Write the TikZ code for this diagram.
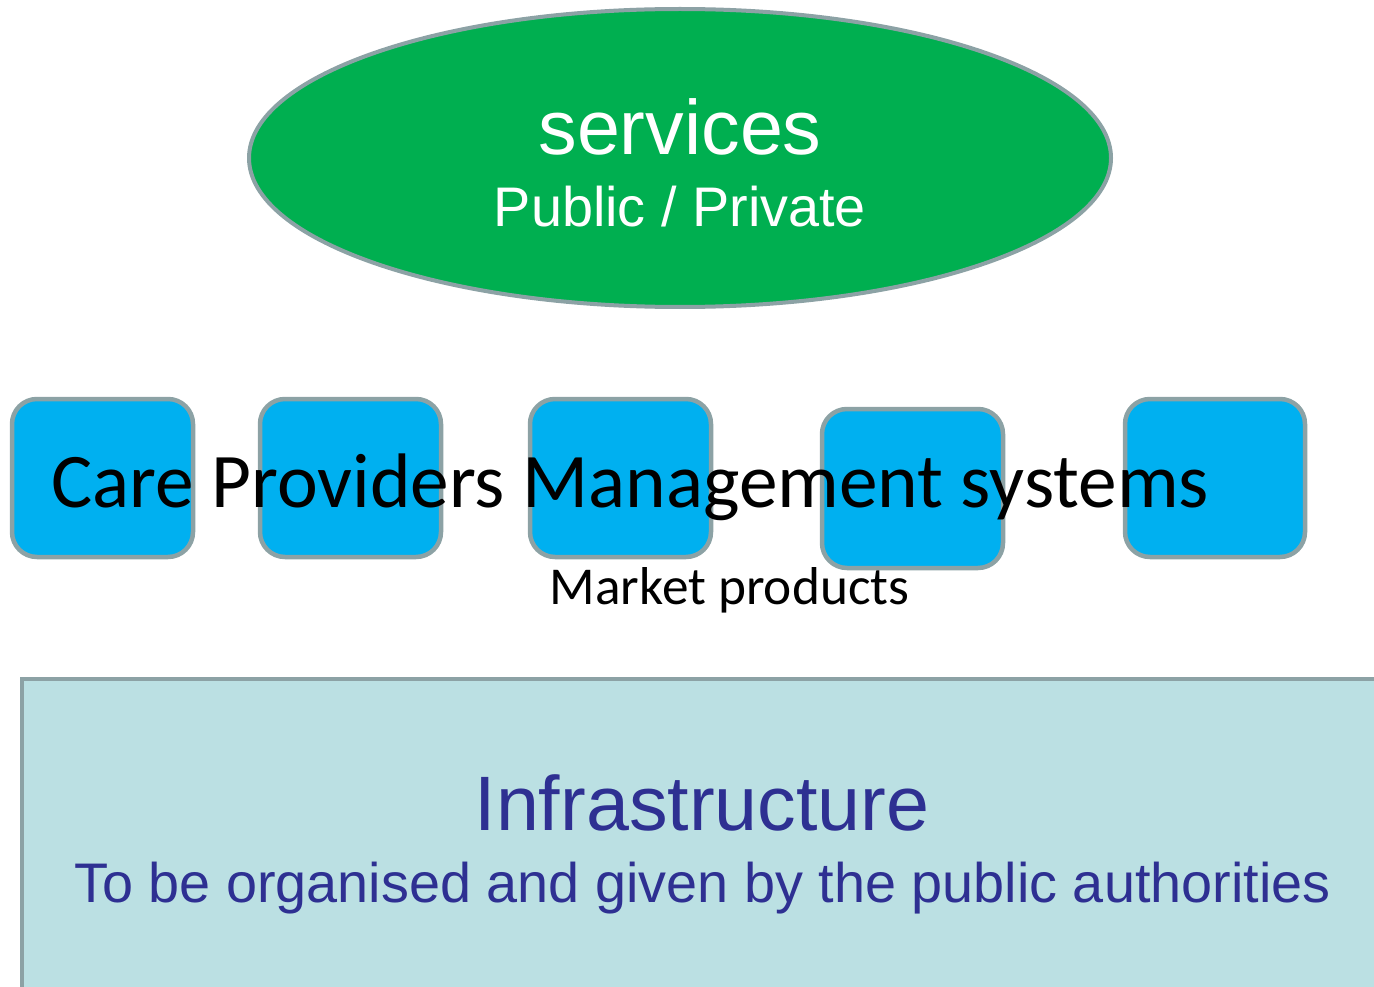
\documentclass[tikz,border=0pt]{standalone}
\usepackage{fontspec}
\setmainfont{Liberation Sans}
\newfontfamily\calib{Carlito}
\usetikzlibrary{shapes.geometric}
\definecolor{svgreen}{HTML}{00AF50}
\definecolor{cpblue}{HTML}{00B0F0}
\definecolor{bordgray}{HTML}{8CA2A5}
\definecolor{infrafill}{HTML}{BBE0E3}
\definecolor{infratext}{HTML}{2E3092}
\tikzset{
  cpbox/.style={draw=bordgray, line width=4.5pt, fill=cpblue, rounded corners=25pt},
  bigtxt/.style={font=\fontsize{77.2}{77}\selectfont, anchor=base, inner sep=0pt},
  subtxt/.style={font=\fontsize{55.8}{56}\selectfont, anchor=base, inner sep=0pt},
}
\begin{document}
\begin{tikzpicture}[x=1pt,y=-1pt]
\useasboundingbox (0,0) rectangle (1374,987);
\clip (0,0) rectangle (1374,987);
% services ellipse
\node[ellipse, draw=bordgray, line width=4pt, fill=svgreen, minimum width=862pt, minimum height=298pt, inner sep=0pt] (svc) at (680,158) {};
\node[bigtxt, text=white] (svct) at (680,155) {services};
\node[subtxt, text=white] (svcs) at (680,227) {Public / Private};
% care provider boxes
\path[cpbox] (12,399) rectangle (193,557);
\node[inner sep=0pt] (b1) at (102.5,478) {};
\path[cpbox] (260,399) rectangle (441,557);
\node[inner sep=0pt] (b2) at (350.5,478) {};
\path[cpbox] (530,399) rectangle (711,557);
\node[inner sep=0pt] (b3) at (620.5,478) {};
\path[cpbox] (822,409) rectangle (1003,568);
\node[inner sep=0pt] (b4) at (912.5,488) {};
\path[cpbox] (1125,399) rectangle (1305,557);
\node[inner sep=0pt] (b5) at (1215,478) {};
\node[anchor=base west, inner sep=0pt, font=\calib\fontsize{77.3}{77}\selectfont] (cpm) at (51,507) {Care Providers Management systems};
\node[anchor=base, inner sep=0pt, font=\calib\fontsize{53.3}{53}\selectfont] (mkt) at (729.5,604) {Market products};
% infrastructure
\path[draw=bordgray, line width=4pt, fill=infrafill] (22,679) rectangle (1400,1010);
\node[bigtxt, text=infratext] (inf) at (702,830) {Infrastructure};
\node[subtxt, text=infratext] (infs) at (702.5,902) {To be organised and given by the public authorities};
\end{tikzpicture}
\end{document}
